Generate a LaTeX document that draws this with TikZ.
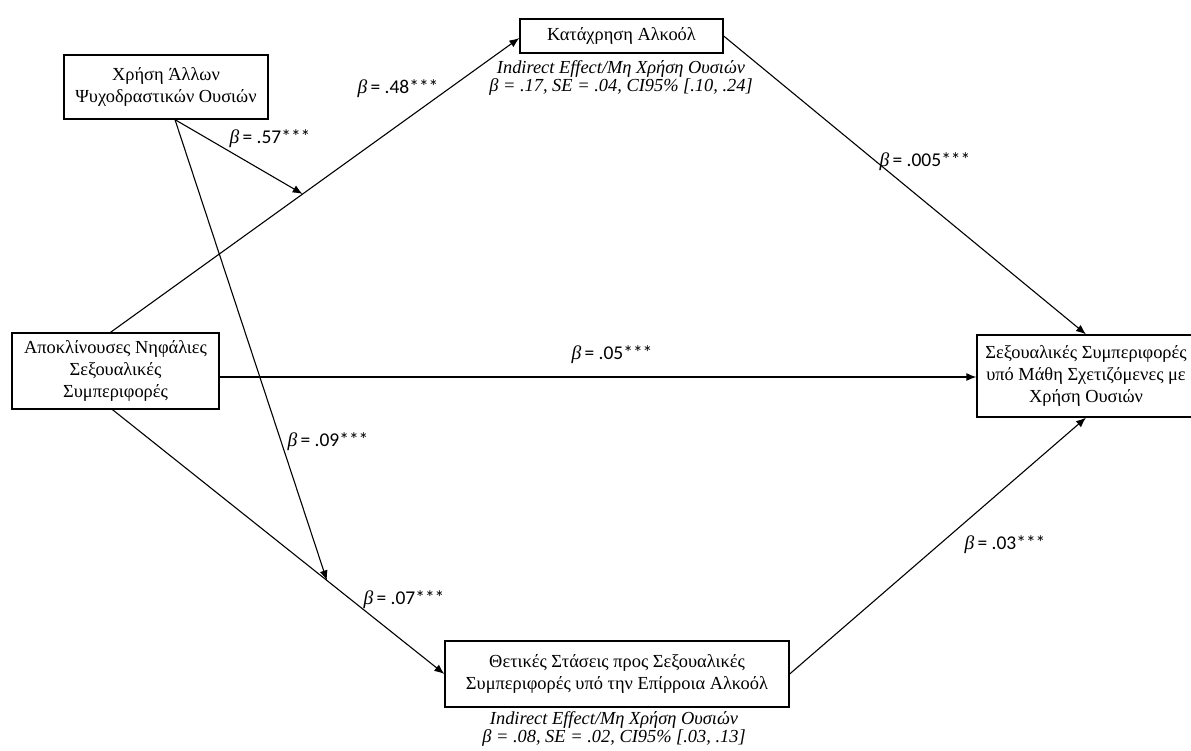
\documentclass[tikz,border=0pt]{standalone}
\usepackage{fontspec}
\setmainfont{Liberation Serif}
\newfontfamily\numfont{Carlito}
\usetikzlibrary{arrows.meta,calc}
\newcommand\bl[1]{{\itshape β}\,{\numfont= #1***}}
\begin{document}
\begin{tikzpicture}[x=1pt,y=-1pt,
  box/.style={draw,line width=1.3pt,rectangle,align=center,inner sep=0pt,
    font=\fontsize{18.4}{22}\selectfont},
  arr/.style={line width=1.1pt,-{Latex[length=10pt,width=8pt]}},
  lbl/.style={font=\fontsize{19.5}{22}\selectfont,inner sep=0pt},
  ind/.style={font=\fontsize{18.4}{16.5}\itshape\selectfont,align=center,inner sep=0pt}]
\useasboundingbox (0,0) rectangle (1191,751);
\begin{scope}
\clip (0,0) rectangle (1191,751);
\node[box,minimum width=204pt,minimum height=64pt] (X) at (166,87) {Χρήση Άλλων\\Ψυχοδραστικών Ουσιών};
\node[box,minimum width=203pt,minimum height=34pt] (K) at (621.5,36) {Κατάχρηση Αλκοόλ};
\node[box,minimum width=207pt,minimum height=76pt] (A) at (115.5,371) {Αποκλίνουσες Νηφάλιες\\Σεξουαλικές\\Συμπεριφορές};
\node[box,minimum width=218pt,minimum height=82pt] (S) at (1086,376) {Σεξουαλικές Συμπεριφορές\\υπό Μάθη Σχετιζόμενες με\\Χρήση Ουσιών};
\node[box,minimum width=344pt,minimum height=66pt] (T) at (617,674) {Θετικές Στάσεις προς Σεξουαλικές\\Συμπεριφορές υπό την Επίρροια Αλκοόλ};

\coordinate (a1) at ($(A.north)+(-5,0)$);
\coordinate (k1) at ($(K.west)+(0,2)$);
\coordinate (m1) at ($(a1)!0.47!(k1)$);
\coordinate (a2) at ($(A.south)+(-3,0)$);
\coordinate (m2) at ($(a2)!0.646!(T.west)$);
\coordinate (x1) at ($(X.south)+(9,0)$);
\coordinate (ae) at ($(A.east)+(0,6)$);
\coordinate (sw) at ($(S.west)+(0,1)$);

\draw[arr] (a1) -- (k1);
\draw[arr] (x1) -- (m1);
\draw[arr] (x1) -- (m2);
\draw[arr] (a2) -- (T.west);
\draw[arr] (ae) -- (sw);
\draw[arr] (K.east) -- (S.north);
\draw[arr] (T.east) -- (S.south);

\node[lbl] (l48) at (398,89) {\bl{.48}};
\node[lbl] (l57) at (270,139) {\bl{.57}};
\node[lbl] (l005) at (925,162) {\bl{.005}};
\node[lbl] (l05) at (612,355) {\bl{.05}};
\node[lbl] (l09) at (328,442) {\bl{.09}};
\node[lbl] (l07) at (404,600) {\bl{.07}};
\node[lbl] (l03) at (1005,545) {\bl{.03}};
\node[ind] (i1) at (621,78) {Indirect Effect/Μη Χρήση Ουσιών\\β = .17, SE = .04, CI95\% [.10, .24]};
\node[ind] (i2) at (614,729) {Indirect Effect/Μη Χρήση Ουσιών\\β = .08, SE = .02, CI95\% [.03, .13]};
\end{scope}
\end{tikzpicture}
\end{document}
